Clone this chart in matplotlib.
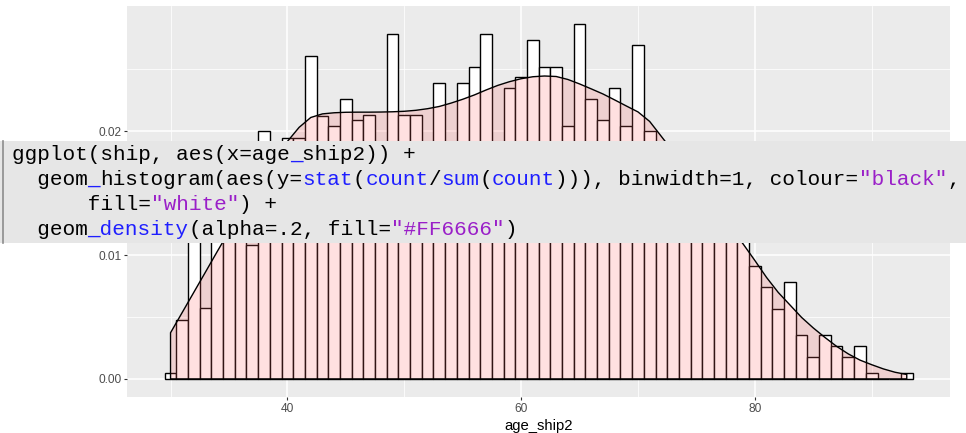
import matplotlib
matplotlib.use("Agg")
import matplotlib.pyplot as plt
from matplotlib.lines import Line2D
from matplotlib.patches import Rectangle
from matplotlib.ticker import FixedLocator

# ---------------- data ----------------
bin_centers = list(range(30, 94))
bar_props = [
    0.00047, 0.00478, 0.0130, 0.00572, 0.0140, 0.0160, 0.0165, 0.01084,   # 30-37
    0.0200, 0.0180, 0.0195, 0.0195, 0.02607, 0.02126, 0.02042, 0.0226,    # 38-45
    0.02088, 0.02128, 0.0180, 0.02783, 0.02128, 0.02128, 0.0185, 0.02393, # 46-53
    0.0180, 0.02393, 0.0252, 0.02783, 0.0185, 0.02349, 0.02435, 0.0274,   # 54-61
    0.0252, 0.0252, 0.02042, 0.02869, 0.02263, 0.02088, 0.02347, 0.02042, # 62-69
    0.02697, 0.0200, 0.0180, 0.0165, 0.0160, 0.0150, 0.0140, 0.0130,      # 70-77
    0.0120, 0.0115, 0.00911, 0.00742, 0.00564, 0.00782, 0.00351, 0.00176, # 78-85
    0.00351, 0.00263, 0.00176, 0.00263, 0.00047, 0.0, 0.0, 0.00047,       # 86-93
]

dens_x = list(range(30, 94))
dens_y = [
    0.00373, 0.00537, 0.00701, 0.00865, 0.0103, 0.01191, 0.01353, 0.01506,  # 30-37
    0.01652, 0.01789, 0.01918, 0.02032, 0.02112, 0.02141, 0.0215, 0.02154,  # 38-45
    0.02155, 0.02155, 0.02156, 0.02158, 0.02162, 0.0217, 0.02183, 0.02201,  # 46-53
    0.02228, 0.02259, 0.02294, 0.02334, 0.02371, 0.02401, 0.02425, 0.02441, # 54-61
    0.02447, 0.02443, 0.02419, 0.02383, 0.02343, 0.02302, 0.02254, 0.02205, # 62-69
    0.02157, 0.02080, 0.01959, 0.01837, 0.01712, 0.01587, 0.01462, 0.01337, # 70-77
    0.01216, 0.0109, 0.00957, 0.0082, 0.00699, 0.00598, 0.00497, 0.00412,   # 78-85
    0.00335, 0.00263, 0.00202, 0.00152, 0.00115, 0.00081, 0.00054, 0.00036, # 86-93
]

x_major = [40, 60, 80]
x_minor = [30, 50, 70, 90]
x_tick_labels = ["40", "60", "80"]
y_major = [0.00, 0.01, 0.02]
y_minor = [0.005, 0.015, 0.025]
y_tick_labels = ["0.00", "0.01", "0.02"]
x_label = "age_ship2"

K, B, P = "#000000", "#1F1FFF", "#9A1FC8"
code_lines = [
    [("ggplot(ship, aes(x=age", K), ("_", B), ("ship2)) +", K)],
    [("  geom", K), ("_", B), ("histogram(aes(y=", K), ("stat", B), ("(", K),
     ("count", B), ("/", K), ("sum", B), ("(", K), ("count", B),
     ("))), binwidth=1, colour=", K), ('"black"', P), (",", K)],
    [("      fill=", K), ('"white"', P), (") +", K)],
    [("  geom", K), ("_density", B), ("(alpha=.2, fill=", K), ('"#FF6666"', P), (")", K)],
]

# ---------------- figure ----------------
W, H = 966, 433
fig = plt.figure(figsize=(W / 100, H / 100), dpi=100)
fig.patch.set_facecolor("white")
ax = fig.add_axes([127.3 / W, 1 - 396.7 / H, (950 - 127.3) / W, (396.7 - 6) / H])
ax.set_facecolor("#EBEBEB")
for s in ax.spines.values():
    s.set_visible(False)

# bars
ax.bar(bin_centers, bar_props, width=1.0, color="white", edgecolor="black",
       linewidth=1.0, zorder=2)

# density (full polygon outline, like older ggplot2)
px = [dens_x[0]] + dens_x + [dens_x[-1]]
py = [0.0] + dens_y + [0.0]
ax.fill(px, py, facecolor=(1.0, 0.4, 0.4, 0.2), edgecolor="black",
        linewidth=1.0, zorder=3)

# limits with ggplot-like 5% expansion
xlo, xhi = bin_centers[0] - 0.5, bin_centers[-1] + 0.5
xr = xhi - xlo
ax.set_xlim(xlo - 0.05 * xr, xhi + 0.05 * xr)
M = max(max(bar_props), max(dens_y))
ax.set_ylim(-0.05 * M, 1.05 * M)

ax.xaxis.set_major_locator(FixedLocator(x_major))
ax.xaxis.set_minor_locator(FixedLocator(x_minor))
ax.yaxis.set_major_locator(FixedLocator(y_major))
ax.yaxis.set_minor_locator(FixedLocator(y_minor))
ax.set_xticklabels(x_tick_labels)
ax.set_yticklabels(y_tick_labels)
ax.grid(which="major", color="white", linewidth=1.1, zorder=0)
ax.grid(which="minor", color="white", linewidth=0.55, zorder=0)
ax.set_axisbelow(True)

ax.tick_params(which="major", length=2.0, width=0.8, color="#333333",
               labelcolor="#4D4D4D", labelsize=8.6, pad=2.2)
ax.tick_params(which="minor", length=0)
for lab in ax.get_xticklabels() + ax.get_yticklabels():
    lab.set_family("Liberation Sans")

ax.set_xlabel(x_label, fontsize=10.7, family="Liberation Sans", color="black",
              labelpad=3)

# ---------------- code overlay ----------------
box_top, box_bot = 141.0, 243.3
fig.add_artist(Rectangle((0, 1 - box_bot / H), 1, (box_bot - box_top) / H,
                         transform=fig.transFigure, facecolor="#E6E6E6",
                         edgecolor="none", zorder=10))
fig.add_artist(Line2D([2.5 / W, 2.5 / W], [1 - box_top / H, 1 - box_bot / H],
                      transform=fig.transFigure, color="#8C8C8C", linewidth=1.2,
                      zorder=11))

x0, pitch = 11.7, 12.64
baselines = [160, 185, 210, 235]
fs = pitch / 0.6 * 0.72
for line, yb in zip(code_lines, baselines):
    col = 0
    for txt, c in line:
        fig.text((x0 + col * pitch) / W, 1 - yb / H, txt, color=c,
                 family="Liberation Mono", fontsize=fs, va="baseline",
                 ha="left", zorder=12)
        col += len(txt)

fig.savefig("out.png", dpi=100, facecolor="white")
